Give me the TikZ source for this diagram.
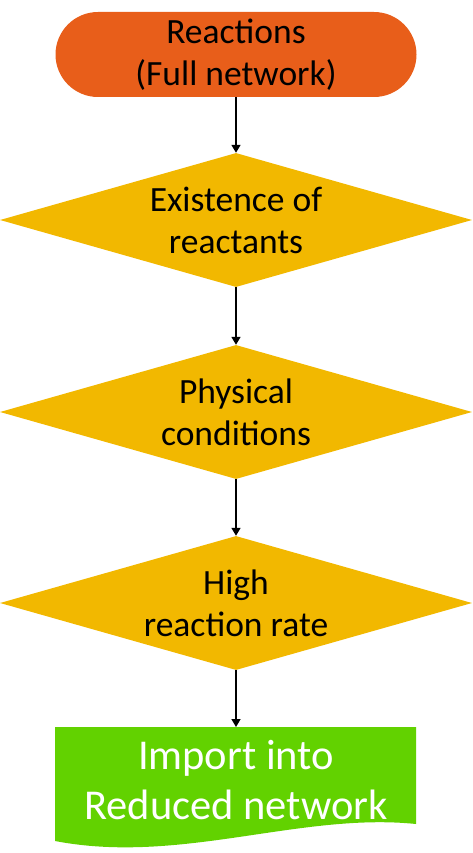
\documentclass[tikz,border=0pt]{standalone}
\usepackage{fontspec}
\setmainfont{Carlito}
\usetikzlibrary{shapes.geometric, shapes.misc, arrows.meta}

\definecolor{naranja}{RGB}{232,94,26}
\definecolor{amarillo}{RGB}{242,184,0}
\definecolor{verde}{RGB}{98,210,0}

\tikzset{
    inicio/.style={rounded rectangle, fill=naranja, minimum width=361pt,
        minimum height=85pt, inner sep=0pt, align=center,
        font=\fontsize{35.5}{42}\selectfont},
    decision/.style={diamond, aspect=3.52, fill=amarillo, minimum width=472pt,
        minimum height=134pt, inner sep=0pt, align=center,
        font=\fontsize{35.5}{42}\selectfont},
    flecha/.style={-{Triangle[width=9pt,length=8pt]}, line width=1.6pt}
}

\begin{document}
\begin{tikzpicture}[x=1pt, y=-1pt]
    \useasboundingbox (0,0) rectangle (472,853);

    % Inicio
    \node[inicio] (reac) at (236,54.5) {Reactions\\(Full network)};

    % Decisiones
    \node[decision] (exis) at (236,220) {Existence of\\reactants};
    \node[decision] (fisi) at (236,412) {Physical\\conditions};
    \node[decision] (tasa) at (236,603) {High\\reaction rate};

    % Documento final
    \fill[verde] (55,727) -- (416,727) -- (416,824)
        .. controls (300,812) and (180,865) .. (55,841) -- cycle;
    \coordinate (docarriba) at (236,727);
    \node[text=white, align=center, font=\fontsize{42.5}{50}\selectfont]
        (red) at (236,780) {Import into\\Reduced network};

    % Flechas
    \draw[flecha] (reac) -- (exis);
    \draw[flecha] (exis) -- (fisi);
    \draw[flecha] (fisi) -- (tasa);
    \draw[flecha] (tasa) -- (docarriba);
\end{tikzpicture}
\end{document}
